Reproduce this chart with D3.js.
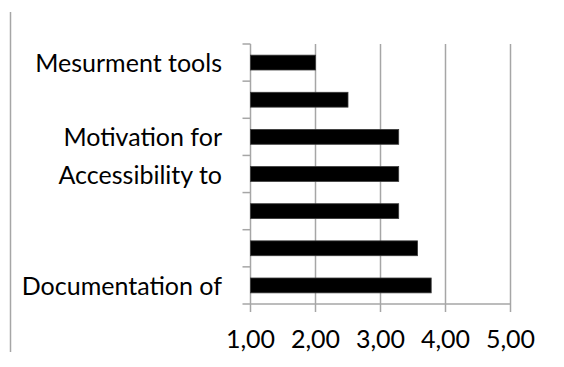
<!DOCTYPE html>
<html>
<head>
<meta charset="utf-8">
<script src="https://cdn.jsdelivr.net/npm/d3@7"></script>
<style>
  html, body { margin: 0; padding: 0; background: #fff; }
  svg { display: block; }
  text { font-family: Lato, "Open Sans", sans-serif; fill: #000; }
</style>
</head>
<body>
<svg id="chart" width="564" height="367"></svg>
<script>
// Categories, top to bottom (blank where the label is not shown)
const categories = ["Mesurment tools", "", "Motivation for", "Accessibility to", "", "", "Documentation of"];
// Mean score for each category
const values = [2.00, 2.50, 3.28, 3.28, 3.28, 3.57, 3.78];
// Value-axis ticks
const xTicks = [1, 2, 3, 4, 5];

const svg = d3.select("#chart");
const plotLeft = 250.5, plotRight = 510.5, plotTop = 44, plotBottom = 304;

const x = d3.scaleLinear().domain([1, 5]).range([plotLeft, plotRight]);
const y = d3.scaleBand().domain(d3.range(categories.length)).range([plotTop, plotBottom]).paddingInner(0.6).paddingOuter(0.3);
const band = d3.scaleBand().domain(d3.range(categories.length)).range([plotTop, plotBottom]);

const grid = "#a6a6a6";

// Frame line on the left
svg.append("line").attr("x1", 10.5).attr("x2", 10.5).attr("y1", 12).attr("y2", 352)
  .attr("stroke", grid).attr("stroke-width", 1.5);

// Vertical gridlines, running past the axis as tick marks
svg.append("g").selectAll("line").data(xTicks).join("line")
  .attr("x1", d => x(d)).attr("x2", d => x(d))
  .attr("y1", plotTop).attr("y2", plotBottom + 8)
  .attr("stroke", grid).attr("stroke-width", 1.5);

// Bottom axis line
svg.append("line").attr("x1", plotLeft - 8).attr("x2", plotRight).attr("y1", plotBottom).attr("y2", plotBottom)
  .attr("stroke", grid).attr("stroke-width", 1.5);

// Category tick marks on the left axis (band boundaries)
svg.append("g").selectAll("line").data(d3.range(categories.length)).join("line")
  .attr("x1", plotLeft - 8).attr("x2", plotLeft)
  .attr("y1", d => band(d)).attr("y2", d => band(d))
  .attr("stroke", grid).attr("stroke-width", 1.5);

// Bars
svg.append("g").selectAll("rect").data(values).join("rect")
  .attr("x", x(1))
  .attr("y", (d, i) => y(i))
  .attr("width", d => x(d) - x(1))
  .attr("height", y.bandwidth())
  .attr("fill", "#000")
  .attr("stroke", "#3a3a3a").attr("stroke-width", 0.8);

// Category labels
svg.append("g").selectAll("text").data(categories).join("text")
  .attr("x", 222)
  .attr("y", (d, i) => band(i) + band.bandwidth() / 2 + 9.5)
  .attr("text-anchor", "end")
  .attr("font-size", 25)
  .text(d => d);

// Value tick labels
const fmt = v => v.toFixed(2).replace(".", ",");
svg.append("g").selectAll("text").data(xTicks).join("text")
  .attr("x", d => x(d))
  .attr("y", 348)
  .attr("text-anchor", "middle")
  .attr("font-size", 25)
  .text(d => fmt(d));
</script>
</body>
</html>
